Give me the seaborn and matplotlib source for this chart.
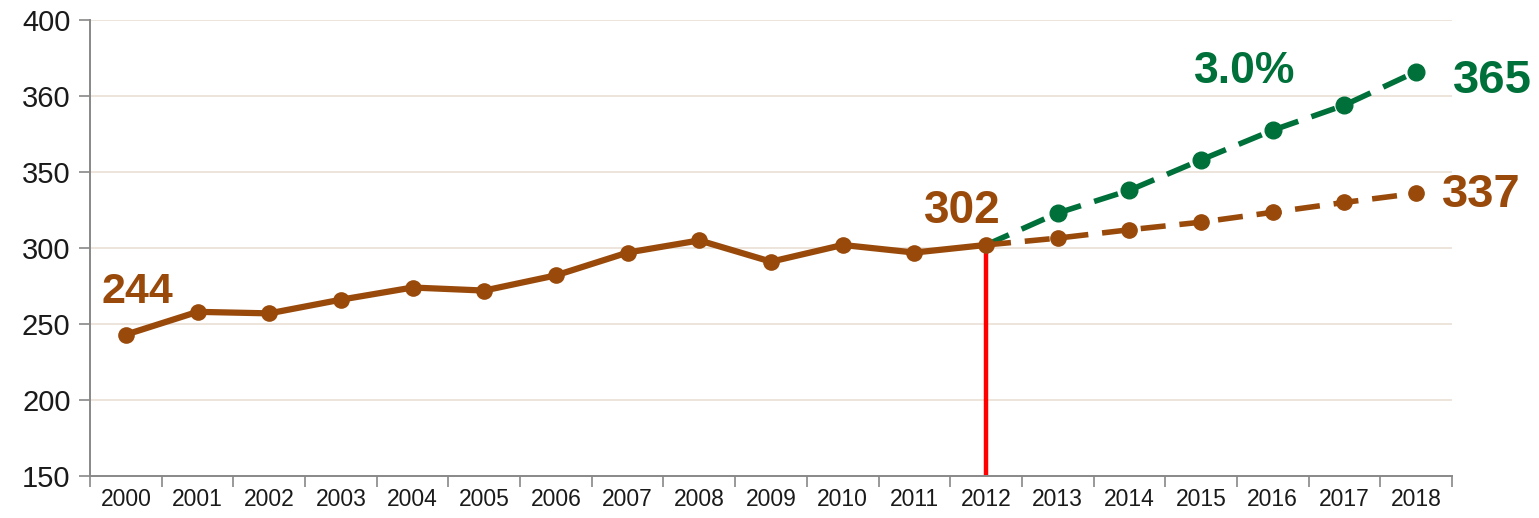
import numpy as np
import pandas as pd
import seaborn as sns
import matplotlib
matplotlib.use("Agg")
import matplotlib.pyplot as plt

# values as drawn
years = list(range(2000, 2019))
hist_years = list(range(2000, 2013))
hist_vals = [243, 258, 257, 266, 274, 272, 282, 297, 305, 291, 302, 297, 302]
fc_years = list(range(2012, 2019))
low_vals = [302, 306.5, 312, 317, 323.5, 330, 336]
high_vals = [302, 323, 338, 358, 377.5, 394, 416]
ytick_vals = [150, 200, 250, 300, 350, 400, 450]
ytick_labels = ["150", "200", "250", "300", "350", "360", "400"]

BROWN = "#994A0B"
GREEN = "#00703A"
RED = "#FF0000"

sns.set_theme(style="white")
plt.rcParams['font.family'] = ['Liberation Sans', 'DejaVu Sans']

hist = pd.DataFrame({"x": [y - 2000 for y in hist_years], "v": hist_vals})
fc = pd.DataFrame({"x": [y - 2000 for y in fc_years], "low": low_vals, "high": high_vals})

fig = plt.figure(figsize=(15.39, 5.18), dpi=100)
ax = fig.add_axes([90 / 1539, 42 / 518, 1362 / 1539, 456 / 518])

for v in ytick_vals[1:]:
    ax.axhline(v, color="#EADFD6", lw=1.2, zorder=0)

# red divider at 2012
ax.plot([12, 12], [150, 302], color=RED, lw=3.2, zorder=1, solid_capstyle="butt")

sns.lineplot(data=fc, x="x", y="high", ax=ax, color=GREEN, lw=4, zorder=2,
             linestyle=(0, (4.5, 2.5)))
sns.lineplot(data=fc, x="x", y="low", ax=ax, color=BROWN, lw=4, zorder=2,
             linestyle=(0, (4.5, 2.5)))
sub = fc.iloc[1:]
ax.plot(sub["x"], sub["high"], "o", color=GREEN, ms=12, zorder=3)
ax.plot(sub["x"], sub["low"], "o", color=BROWN, ms=11, zorder=3)

sns.lineplot(data=hist, x="x", y="v", ax=ax, color=BROWN, lw=4.5, marker="o",
             markersize=12, markeredgewidth=0, zorder=4)

ax.set_xlim(-0.5, 18.5)
ax.set_ylim(150, 450)
ax.set_xlabel("")
ax.set_ylabel("")

ax.set_yticks(ytick_vals)
ax.set_yticklabels(ytick_labels, fontsize=21, color="#1a1a1a")
ax.set_xticks(np.arange(-0.5, 19, 1))
ax.set_xticklabels([])
ax.set_xticks(np.arange(0, 19), minor=True)
ax.set_xticklabels([str(y) for y in years], minor=True, fontsize=16.5, color="#1a1a1a")
ax.tick_params(axis="x", which="major", direction="out", length=8, width=1.2,
               color="#888888", bottom=True)
ax.tick_params(axis="x", which="minor", length=0, pad=9, bottom=True)
ax.tick_params(axis="y", direction="out", length=8, width=1.2, color="#888888",
               left=True, pad=6)

for s in ["top", "right"]:
    ax.spines[s].set_visible(False)
for s in ["left", "bottom"]:
    ax.spines[s].set_color("#888888")
    ax.spines[s].set_linewidth(1.4)

ax.text(0.16, 264, "244", color=BROWN, ha="center", va="baseline", fontsize=31, fontweight="bold")
ax.text(11.67, 316.5, "302", color=BROWN, ha="center", va="baseline", fontsize=33, fontweight="bold")
ax.text(15.61, 408.6, "3.0%", color=GREEN, ha="center", va="baseline", fontsize=32, fontweight="bold")
ax.text(18.52, 402, "365", color=GREEN, ha="left", va="baseline", clip_on=False,
        fontsize=34, fontweight="bold")
ax.text(18.36, 327, "337", color=BROWN, ha="left", va="baseline", clip_on=False,
        fontsize=34, fontweight="bold")

fig.savefig("out.png", dpi=100)
